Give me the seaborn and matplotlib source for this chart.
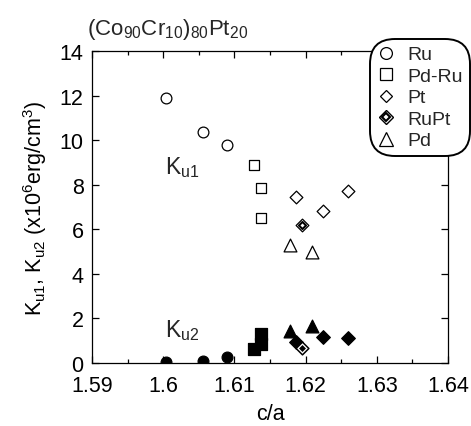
import matplotlib
matplotlib.use("Agg")
import matplotlib.pyplot as plt
import seaborn as sns
from matplotlib.legend_handler import HandlerTuple
from matplotlib.lines import Line2D

sns.set_theme(style="white")
plt.rcParams['font.family'] = ['Liberation Sans', 'DejaVu Sans']
plt.rcParams['mathtext.fontset'] = 'custom'
plt.rcParams['mathtext.rm'] = 'Liberation Sans'
plt.rcParams['mathtext.it'] = 'Liberation Sans'
plt.rcParams['mathtext.bf'] = 'Liberation Sans'

# Data (c/a, K values in 1e6 erg/cm^3)
ru_ca = [1.6004, 1.6056, 1.6090]
ru_ku1 = [11.9, 10.35, 9.8]
ru_ku2 = [0.06, 0.10, 0.25]

pdru_ca = [1.6128, 1.6137, 1.6137]
pdru_ku1 = [8.9, 7.85, 6.5]
pdru_ca2 = [1.6128, 1.6138, 1.6138]
pdru_ku2 = [0.63, 0.85, 1.3]

pt_ca = [1.6187, 1.6225, 1.6259]
pt_ku1 = [7.47, 6.8, 7.7]
pt_ku2 = [0.93, 1.15, 1.12]

rupt_ca = [1.6195]
rupt_ku1 = [6.19]
rupt_ku2 = [0.67]

pd_ca = [1.6178, 1.6209]
pd_ku1 = [5.3, 4.96]
pd_ku2 = [1.45, 1.65]

legend_labels = ["Ru", "Pd-Ru", "Pt", "RuPt", "Pd"]

fig = plt.figure(figsize=(4.71, 4.27), dpi=100)
ax = fig.add_axes([92/471, 1-364/427, (448-92)/471, (364-52)/427])

k = dict(ax=ax, legend=False, zorder=3)
open_kw = dict(facecolor='white', edgecolor='black', linewidth=0.9)
fill_kw = dict(facecolor='black', edgecolor='black', linewidth=0.9)

# Ku1 (open)
sns.scatterplot(x=ru_ca, y=ru_ku1, marker='o', s=60, **open_kw, **k)
sns.scatterplot(x=pdru_ca, y=pdru_ku1, marker='s', s=60, **open_kw, **k)
sns.scatterplot(x=pt_ca, y=pt_ku1, marker='D', s=42, **open_kw, **k)
sns.scatterplot(x=rupt_ca, y=rupt_ku1, marker='D', s=42, **open_kw, **k)
sns.scatterplot(x=rupt_ca, y=rupt_ku1, marker='D', s=13, facecolor='white', edgecolor='black', linewidth=1.5, ax=ax, legend=False, zorder=4)
sns.scatterplot(x=pd_ca, y=pd_ku1, marker='^', s=85, **open_kw, **k)

# Ku2 (filled)
sns.scatterplot(x=ru_ca, y=ru_ku2, marker='o', s=60, **fill_kw, **k)
sns.scatterplot(x=pdru_ca2, y=pdru_ku2, marker='s', s=78, **fill_kw, **k)
sns.scatterplot(x=pt_ca, y=pt_ku2, marker='D', s=48, **fill_kw, **k)
sns.scatterplot(x=rupt_ca, y=rupt_ku2, marker='D', s=42, facecolor='white', edgecolor='black', linewidth=1.1, ax=ax, legend=False, zorder=5)
sns.scatterplot(x=rupt_ca, y=rupt_ku2, marker='D', s=9, facecolor='black', edgecolor='black', linewidth=0.5, ax=ax, legend=False, zorder=6)
sns.scatterplot(x=pd_ca, y=pd_ku2, marker='^', s=85, **fill_kw, **k)

ax.set_xlim(1.59, 1.64)
ax.set_ylim(0, 14)
ax.set_xticks([1.59, 1.6, 1.61, 1.62, 1.63, 1.64])
ax.set_xticklabels(["1.59", "1.6", "1.61", "1.62", "1.63", "1.64"])
ax.set_xticks([1.595, 1.605, 1.615, 1.625, 1.635], minor=True)
ax.set_yticks(range(0, 15, 2))
ax.tick_params(axis='both', which='both', direction='in', bottom=True, left=True,
               top=True, right=True, labelsize=15.5, colors='black', width=0.9)
ax.tick_params(axis='both', which='major', length=5)
ax.tick_params(axis='x', which='major', pad=9)
ax.tick_params(axis='y', which='major', pad=6)
ax.tick_params(axis='x', which='minor', length=3)
for sp in ax.spines.values():
    sp.set_color('black')
    sp.set_linewidth(0.9)

ax.set_xlabel("c/a", fontsize=15.5, color='black', labelpad=5)
ax.set_ylabel(r"K$_{\rm u1}$, K$_{\rm u2}$ (x10$^{6}$erg/cm$^{3}$)", fontsize=15.5, color='black', labelpad=8)

ax.text(1.6003, 8.8, r"K$_{\rm u1}$", fontsize=16.5, va='center', ha='left')
ax.text(1.6003, 1.5, r"K$_{\rm u2}$", fontsize=16.5, va='center', ha='left')

fig.text(87/471, 1-29/427, r"(Co$_{90}$Cr$_{10}$)$_{80}$Pt$_{20}$", fontsize=16, va='center', ha='left')

# Legend
mk = dict(color='black', linestyle='none', markerfacecolor='white', markeredgecolor='black', markeredgewidth=0.9)
h_ru = Line2D([], [], marker='o', markersize=8.5, **mk)
h_pdru = Line2D([], [], marker='s', markersize=8.5, **mk)
h_pt = Line2D([], [], marker='D', markersize=6.5, **mk)
h_rupt_o = Line2D([], [], marker='D', markersize=7.5, color='black', linestyle='none',
                  markerfacecolor='white', markeredgecolor='black', markeredgewidth=1.0)
h_rupt_i = Line2D([], [], marker='D', markersize=3.8, color='black', linestyle='none',
                  markerfacecolor='white', markeredgecolor='black', markeredgewidth=1.5)
h_pd = Line2D([], [], marker='^', markersize=9.5, **mk)
leg = fig.legend([h_ru, h_pdru, h_pt, (h_rupt_o, h_rupt_i), h_pd], legend_labels,
                 handler_map={tuple: HandlerTuple(ndivide=1, pad=0)},
                 loc='upper right', bbox_to_anchor=(470/471, 1-40/427),
                 fontsize=14, frameon=True, fancybox=True, framealpha=1,
                 handlelength=1.0, handletextpad=0.6, labelspacing=0.2,
                 borderpad=0.35, borderaxespad=0)
fr = leg.get_frame()
fr.set_edgecolor('black')
fr.set_linewidth(1.4)
fr.set_boxstyle('round', pad=0, rounding_size=1.3)
leg.set_zorder(10)

fig.savefig("out.png", dpi=100, facecolor='white')
